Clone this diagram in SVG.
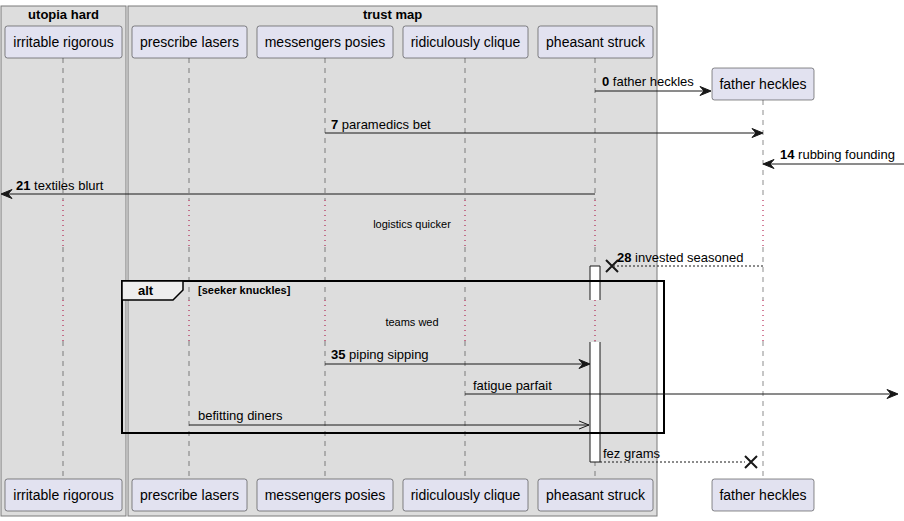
<svg xmlns="http://www.w3.org/2000/svg" width="904" height="521" viewBox="0 0 904 521">
<defs>
<style>
.box{fill:#DDDDDD;stroke:#7a7a7a;stroke-width:1}
.boxt{font-family:"Liberation Sans",Arial,sans-serif;font-size:13px;font-weight:bold;fill:#000;text-anchor:middle}
.part{fill:#E2E2F0;stroke:#181818;stroke-width:0.5}
.pt{font-family:"Liberation Sans",Arial,sans-serif;font-size:14px;fill:#000;text-anchor:middle}
.life{stroke:#181818;stroke-width:0.5;stroke-dasharray:5,5;fill:none}
.delay{stroke:#A80036;stroke-width:1;stroke-dasharray:1,4;fill:none}
.msg{stroke:#181818;stroke-width:1;fill:none}
.dash{stroke:#181818;stroke-width:1;stroke-dasharray:2,2;fill:none}
.head{fill:#181818;stroke:#181818;stroke-width:1}
.xm{stroke:#181818;stroke-width:2;fill:none}
.ml{font-family:"Liberation Sans",Arial,sans-serif;font-size:13px;fill:#000}
.num{font-weight:bold}
.dl{font-family:"Liberation Sans",Arial,sans-serif;font-size:11px;fill:#000;text-anchor:middle}
.act{fill:none;stroke:#181818;stroke-width:1}
.frame{fill:none;stroke:#000;stroke-width:2}
.tab{fill:#EEEEEE;stroke:#000;stroke-width:1.5}
</style>
</defs>
<rect width="904" height="521" fill="#FFFFFF"/>
<g id="box-utopia-hard">
<rect class="box" x="1" y="6" width="125" height="510"/>
<text class="boxt" x="63.5" y="19">utopia hard</text>
</g>
<g id="box-trust-map">
<rect class="box" x="128" y="6" width="529" height="510"/>
<text class="boxt" x="392.5" y="19">trust map</text>
</g>
<g id="lifelines">
<path class="life" d="M63,58V200M63,247V300M63,341V479"/>
<path class="life" d="M189,58V200M189,247V300M189,341V479"/>
<path class="life" d="M325,58V200M325,247V300M325,341V479"/>
<path class="life" d="M465,58V200M465,247V300M465,341V479"/>
<path class="life" d="M595,58V200M595,247V300M595,341V479"/>
<path class="life" d="M763,100V200M763,247V300M763,341V479"/>
<path class="delay" d="M63,200V247M189,200V247M325,200V247M465,200V247M595,200V247M763,200V247"/>
<path class="delay" d="M63,300V341M189,300V341M325,300V341M465,300V341M595,300V341M763,300V341"/>
</g>
<g id="activation">
<rect x="590" y="266" width="10" height="34" fill="#FFFFFF" stroke="none"/>
<path class="act" d="M590,300V266H600V300"/>
<rect x="590" y="342" width="10" height="120" fill="#FFFFFF" stroke="none"/>
<path class="act" d="M590,342V462H600V342"/>
</g>
<g id="p-irritable-rigorous">
<rect class="part" x="5" y="26" width="117" height="32" rx="2.5"/>
<text class="pt" x="63.5" y="47">irritable rigorous</text>
<rect class="part" x="5" y="479" width="117" height="32" rx="2.5"/>
<text class="pt" x="63.5" y="500">irritable rigorous</text>
</g>
<g id="p-prescribe-lasers">
<rect class="part" x="132" y="26" width="115" height="32" rx="2.5"/>
<text class="pt" x="189.5" y="47">prescribe lasers</text>
<rect class="part" x="132" y="479" width="115" height="32" rx="2.5"/>
<text class="pt" x="189.5" y="500">prescribe lasers</text>
</g>
<g id="p-messengers-posies">
<rect class="part" x="257" y="26" width="136" height="32" rx="2.5"/>
<text class="pt" x="325" y="47">messengers posies</text>
<rect class="part" x="257" y="479" width="136" height="32" rx="2.5"/>
<text class="pt" x="325" y="500">messengers posies</text>
</g>
<g id="p-ridiculously-clique">
<rect class="part" x="403" y="26" width="125" height="32" rx="2.5"/>
<text class="pt" x="465.5" y="47">ridiculously clique</text>
<rect class="part" x="403" y="479" width="125" height="32" rx="2.5"/>
<text class="pt" x="465.5" y="500">ridiculously clique</text>
</g>
<g id="p-pheasant-struck">
<rect class="part" x="538" y="26" width="115" height="32" rx="2.5"/>
<text class="pt" x="595.5" y="47">pheasant struck</text>
<rect class="part" x="538" y="479" width="115" height="32" rx="2.5"/>
<text class="pt" x="595.5" y="500">pheasant struck</text>
</g>
<g id="p-father-heckles">
<rect class="part" x="712" y="68" width="102" height="32" rx="2.5"/>
<text class="pt" x="763" y="89">father heckles</text>
<rect class="part" x="712" y="479" width="102" height="32" rx="2.5"/>
<text class="pt" x="763" y="500">father heckles</text>
</g>
<g id="alt-frame">
<rect class="frame" x="122" y="281" width="542" height="152"/>
<path class="tab" d="M122,281H183V290L173,300H122Z"/>
<text class="ml" x="138" y="295" font-weight="bold">alt</text>
<text x="198" y="294" font-family="Liberation Sans, Arial, sans-serif" font-size="11" font-weight="bold">[seeker knuckles]</text>
</g>
<g id="connectors">
<line class="msg" x1="595" y1="91" x2="709" y2="91"/>
<polygon class="head" points="711,91 700,86.5 704,91 700,95.5"/>
<text class="ml" x="602" y="86"><tspan class="num">0</tspan> father heckles</text>

<line class="msg" x1="325" y1="133" x2="761" y2="133"/>
<polygon class="head" points="763,133 752,128.5 756,133 752,137.5"/>
<text class="ml" x="331" y="129"><tspan class="num">7</tspan> paramedics bet</text>

<line class="msg" x1="904" y1="164" x2="765" y2="164"/>
<polygon class="head" points="763,164 774,159.5 770,164 774,168.5"/>
<text class="ml" x="780" y="159"><tspan class="num">14</tspan> rubbing founding</text>

<line class="msg" x1="595" y1="194" x2="3" y2="194"/>
<polygon class="head" points="1,194 12,189.5 8,194 12,198.5"/>
<text class="ml" x="16" y="190"><tspan class="num">21</tspan> textiles blurt</text>

<text class="dl" x="412" y="228">logistics quicker</text>

<line class="dash" x1="763" y1="266" x2="614" y2="266"/>
<path class="xm" d="M606,260L618,272M618,260L606,272"/>
<text class="ml" x="617" y="262"><tspan class="num">28</tspan> invested seasoned</text>

<text class="dl" x="412" y="326">teams wed</text>

<line class="msg" x1="325" y1="364" x2="588" y2="364"/>
<polygon class="head" points="590,364 579,359.5 583,364 579,368.5"/>
<text class="ml" x="331" y="359"><tspan class="num">35</tspan> piping sipping</text>

<line class="msg" x1="465" y1="394" x2="896" y2="394"/>
<polygon class="head" points="898,394 887,389.5 891,394 887,398.5"/>
<text class="ml" x="473" y="390">fatigue parfait</text>

<line class="msg" x1="189" y1="425" x2="589" y2="425"/>
<path class="msg" d="M579,421L589,425L579,429"/>
<text class="ml" x="198" y="420">befitting diners</text>

<line class="dash" x1="600" y1="462" x2="745" y2="462"/>
<path class="xm" d="M745,456L757,468M757,456L745,468"/>
<text class="ml" x="603" y="458">fez grams</text>
</g>
</svg>
